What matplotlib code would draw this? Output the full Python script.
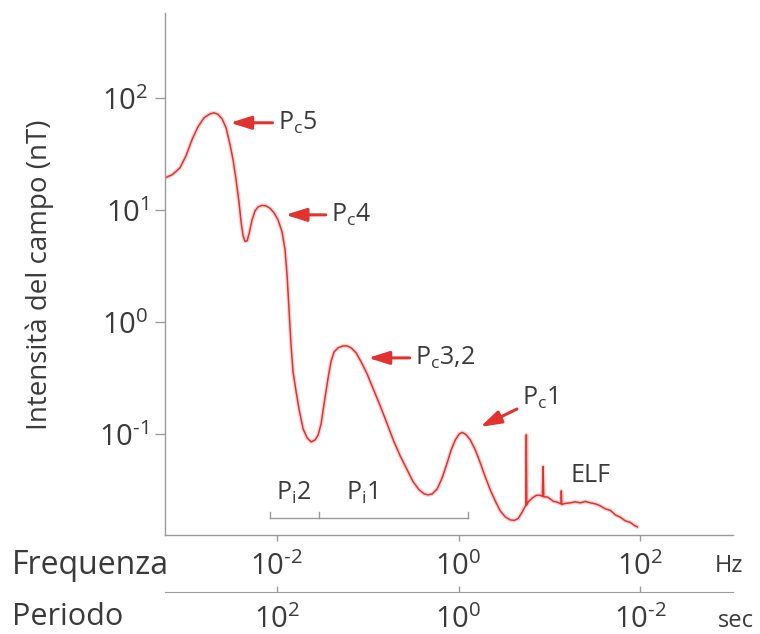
import numpy as np
import matplotlib
matplotlib.use("Agg")
import matplotlib.pyplot as plt
from matplotlib.ticker import FixedLocator, NullLocator, FixedFormatter

plt.rcParams['font.family'] = ['Open Sans', 'DejaVu Sans']
plt.rcParams['mathtext.fontset'] = 'custom'
plt.rcParams['mathtext.rm'] = 'Open Sans'
plt.rcParams['mathtext.it'] = 'Open Sans:italic'
plt.rcParams['mathtext.bf'] = 'Open Sans:bold'
plt.rcParams['mathtext.default'] = 'regular'

# ---- data: log10 of frequency (Hz) and log10 of field intensity (nT) ----
log_freq = [-3.230, -3.153, -3.065, -2.999, -2.933, -2.867, -2.801, -2.735, -2.691,
            -2.646, -2.602, -2.558, -2.514, -2.481, -2.448, -2.415, -2.393, -2.371,
            -2.349, -2.327, -2.305, -2.272, -2.239, -2.206, -2.162, -2.118, -2.074,
            -2.030, -1.986, -1.942, -1.909, -1.887, -1.865, -1.843, -1.821, -1.787,
            -1.754, -1.710, -1.666, -1.622, -1.578, -1.545, -1.512, -1.490, -1.468,
            -1.435, -1.402, -1.369, -1.325, -1.270, -1.226, -1.182, -1.127, -1.072,
            -1.006, -0.939, -0.862, -0.785, -0.719, -0.642, -0.565, -0.499, -0.433,
            -0.378, -0.334, -0.290, -0.235, -0.180, -0.125, -0.081, -0.036, 0.008,
            0.041, 0.085, 0.129, 0.184, 0.239, 0.294, 0.349, 0.404, 0.459, 0.514,
            0.569, 0.613, 0.657, 0.701, 0.729, 0.740, 0.746, 0.751, 0.768, 0.812,
            0.856, 0.900, 0.922, 0.930, 0.938, 0.977, 1.010, 1.043, 1.076, 1.104,
            1.126, 1.131, 1.137, 1.175, 1.230, 1.285, 1.340, 1.395, 1.450, 1.506,
            1.561, 1.616, 1.671, 1.726, 1.781, 1.836, 1.891, 1.935, 1.968]
log_amp = [1.288, 1.315, 1.378, 1.485, 1.628, 1.744, 1.824, 1.860, 1.869,
           1.855, 1.815, 1.735, 1.583, 1.449, 1.271, 1.065, 0.896, 0.771,
           0.721, 0.726, 0.788, 0.913, 0.994, 1.029, 1.043, 1.038, 1.016,
           0.976, 0.913, 0.806, 0.646, 0.422, 0.110, -0.203, -0.444, -0.622,
           -0.783, -0.953, -1.033, -1.069, -1.051, -1.006, -0.908, -0.783, -0.667,
           -0.497, -0.346, -0.265, -0.229, -0.212, -0.212, -0.229, -0.274, -0.354,
           -0.462, -0.596, -0.747, -0.908, -1.051, -1.194, -1.319, -1.426, -1.497,
           -1.533, -1.542, -1.533, -1.488, -1.390, -1.256, -1.140, -1.051, -0.997,
           -0.984, -1.006, -1.051, -1.140, -1.256, -1.381, -1.497, -1.596, -1.685,
           -1.738, -1.765, -1.770, -1.752, -1.694, -1.649, -1.640, -1.006, -1.631,
           -1.604, -1.569, -1.546, -1.546, -1.555, -1.289, -1.560, -1.560, -1.578,
           -1.600, -1.604, -1.613, -1.622, -1.506, -1.627, -1.618, -1.613, -1.604,
           -1.613, -1.600, -1.613, -1.622, -1.640, -1.667, -1.680, -1.721, -1.742,
           -1.774, -1.788, -1.814, -1.828]

freq_ticks = [1e-2, 1e0, 1e2]
freq_tick_labels = [r'$10^{\text{-}2}$', r'$10^{0}$', r'$10^{2}$']
period_tick_labels = [r'$10^{2}$', r'$10^{0}$', r'$10^{\text{-}2}$']
amp_ticks = [1e-1, 1e0, 1e1, 1e2]
amp_tick_labels = [r'$10^{\text{-}1}$', r'$10^{0}$', r'$10^{1}$', r'$10^{2}$']

# Pc annotations: label, arrow tip (freq, amp), text anchor (freq, amp)
pc_labels = [r'P$_c$5', r'P$_c$4', r'P$_c$3,2', r'P$_c$1']
pc_tip_freq = [10**-2.514, 10**-1.905, 10**-0.995, 10**0.239]
pc_tip_amp = [10**1.78, 10**0.958, 10**-0.319, 10**-0.935]
pc_text_freq = [10**-1.986, 10**-1.40, 10**-0.477, 10**0.70]
pc_text_amp = [10**1.78, 10**0.958, 10**-0.319, 10**-0.676]

# Pi bands
pi_labels = [r'P$_i$2', r'P$_i$1']
pi_edges = [10**-2.074, 10**-1.534, 10**0.099]
pi_text_freq = [10**-1.81, 10**-1.064]

RED = '#e2322f'
GRAY = '#9a9a9a'
TXT = '#3a3a3a'

fig = plt.figure(figsize=(7.6, 6.34), dpi=100)
L, R = 165 / 760, 733 / 760
B, T = 1 - 535 / 634, 1 - 13 / 634
ax = fig.add_axes([L, B, R - L, T - B])
ax.set_xscale('log')
ax.set_yscale('log')
xlim = (10**-3.23, 10**3.02)
ax.set_xlim(*xlim)
ax.set_ylim(10**-1.90, 10**2.76)

f = 10 ** np.array(log_freq)
a = 10 ** np.array(log_amp)
ax.plot(f, a, color='#f2a0a0', lw=3.0, alpha=0.45, solid_capstyle='round', solid_joinstyle='round')
ax.plot(f, a, color=RED, lw=1.1, solid_joinstyle='round')

for s in ['top', 'right']:
    ax.spines[s].set_visible(False)
for s in ['left', 'bottom']:
    ax.spines[s].set_color(GRAY)
    ax.spines[s].set_linewidth(1.0)

ax.yaxis.set_major_locator(FixedLocator(amp_ticks))
ax.yaxis.set_major_formatter(FixedFormatter(amp_tick_labels))
ax.yaxis.set_minor_locator(NullLocator())
ax.xaxis.set_major_locator(FixedLocator(freq_ticks))
ax.xaxis.set_major_formatter(FixedFormatter(freq_tick_labels))
ax.xaxis.set_minor_locator(NullLocator())
ax.tick_params(axis='y', direction='out', length=7, width=1, color=GRAY,
               labelsize=21, labelcolor=TXT, pad=5)
ax.tick_params(axis='x', direction='out', length=4, width=1, color=GRAY,
               labelsize=21, labelcolor=TXT, pad=8)

# annotations
for lab, tf, ta, xf, xa in zip(pc_labels, pc_tip_freq, pc_tip_amp, pc_text_freq, pc_text_amp):
    ax.annotate(lab, xy=(tf, ta), xytext=(xf, xa), ha='left', va='center',
                fontsize=18, color=TXT,
                arrowprops=dict(arrowstyle='-|>,head_length=0.7,head_width=0.22',
                                color=RED, lw=2.2, shrinkA=2, shrinkB=0))

ax.text(10**1.23, 10**-1.372, 'ELF', fontsize=18, color=TXT, ha='left', va='center')

# Pi bracket
by = 10**-1.75
ax.plot([pi_edges[0], pi_edges[-1]], [by, by], color=GRAY, lw=1)
for e in pi_edges:
    ax.plot([e, e], [by, by * 10**0.055], color=GRAY, lw=1)
for lab, xf in zip(pi_labels, pi_text_freq):
    ax.text(xf, 10**-1.524, lab, fontsize=18, color=TXT, ha='center', va='center')

# Period axis
yP = 1 - 591.7 / 634
ax2 = fig.add_axes([L, yP, R - L, 0.001])
ax2.set_xscale('log')
ax2.set_xlim(*xlim)
ax2.patch.set_visible(False)
for s in ['top', 'right', 'left']:
    ax2.spines[s].set_visible(False)
ax2.spines['bottom'].set_color(GRAY)
ax2.set_yticks([])
ax2.xaxis.set_major_locator(FixedLocator(freq_ticks))
ax2.xaxis.set_major_formatter(FixedFormatter(period_tick_labels))
ax2.xaxis.set_minor_locator(NullLocator())
ax2.tick_params(axis='x', direction='in', length=4, width=1, color=GRAY,
                labelsize=21, labelcolor=TXT, pad=10)

fig.text(12 / 760, 1 - 565 / 634, 'Frequenza', fontsize=23, color=TXT, ha='left', va='center')
fig.text(12 / 760, 1 - 617 / 634, 'Periodo', fontsize=22, color=TXT, ha='left', va='center')
fig.text(715 / 760, 1 - 566 / 634, 'Hz', fontsize=17, color=TXT, ha='left', va='center')
fig.text(718 / 760, 1 - 621 / 634, 'sec', fontsize=17, color=TXT, ha='left', va='center')
fig.text(40 / 760, 1 - 275 / 634, 'Intensità del campo (nT)', fontsize=20, color=TXT,
         rotation=90, ha='center', va='center')

fig.savefig('out.png', dpi=100)
